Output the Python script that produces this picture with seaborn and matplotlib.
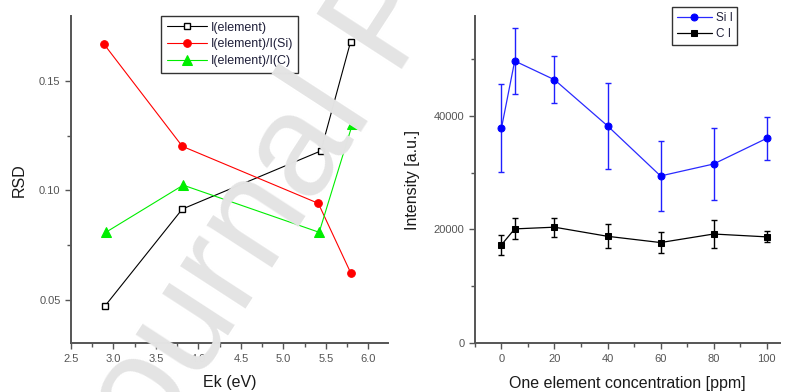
import numpy as np
import pandas as pd
import matplotlib
matplotlib.use("Agg")
import matplotlib.pyplot as plt
from matplotlib.ticker import MultipleLocator, FixedLocator
import seaborn as sns

# ---------------- data ----------------
ek_elem = [2.90, 3.81, 5.44, 5.79]
rsd_elem = [0.0473, 0.0915, 0.1180, 0.1678]
ek_si = [2.89, 3.81, 5.41, 5.79]
rsd_si = [0.1666, 0.1201, 0.0941, 0.0625]
ek_c = [2.91, 3.82, 5.42, 5.81]
rsd_c = [0.0809, 0.1024, 0.0809, 0.1301]

conc = [0, 5, 20, 40, 60, 80, 100]
si_int = [37800, 49600, 46300, 38200, 29400, 31500, 36000]
si_err = [7700, 5800, 4100, 7600, 6100, 6300, 3800]
c_int = [17300, 20100, 20400, 18800, 17700, 19200, 18700]
c_err = [1700, 1850, 1650, 2100, 1900, 2450, 950]

left_xticks = [2.5, 3.0, 3.5, 4.0, 4.5, 5.0, 5.5, 6.0]
left_yticks = [0.05, 0.10, 0.15]
right_xticks = [0, 20, 40, 60, 80, 100]
right_yticks = [0, 20000, 40000]

# ---------------- style ----------------
sns.set_style("ticks")
plt.rcParams["font.family"] = ["Liberation Sans", "DejaVu Sans"]
spine_c = "#555555"
tick_c = "#555555"
text_c = "#1a1a1a"

fig = plt.figure(figsize=(7.85, 3.92), dpi=100)
axL = fig.add_axes([0.0904, 0.1242, 0.4039, 0.8350])
axR = fig.add_axes([0.605, 0.1242, 0.3885, 0.8350])

# ---------------- left panel ----------------
sns.lineplot(x=ek_elem, y=rsd_elem, ax=axL, color="black", lw=0.8,
             marker="s", markersize=5, markerfacecolor="white",
             markeredgecolor="black", markeredgewidth=1.0, label="I(element)")
sns.lineplot(x=ek_si, y=rsd_si, ax=axL, color="#ff0000", lw=0.8,
             marker="o", markersize=5.5, markerfacecolor="#ff0000",
             markeredgecolor="#ff0000", label="I(element)/I(Si)")
sns.lineplot(x=ek_c, y=rsd_c, ax=axL, color="#00ee00", lw=0.8,
             marker="^", markersize=6.5, markerfacecolor="#00ee00",
             markeredgecolor="#00ee00", label="I(element)/I(C)")

axL.set_xlim(2.5, 6.23)
axL.set_ylim(0.0303, 0.1795)
axL.xaxis.set_major_locator(FixedLocator(left_xticks))
axL.xaxis.set_minor_locator(MultipleLocator(0.25))
axL.yaxis.set_major_locator(FixedLocator(left_yticks))
axL.yaxis.set_minor_locator(FixedLocator([0.075, 0.125]))
axL.set_xticklabels([f"{v:.1f}" for v in left_xticks])
axL.set_yticklabels([f"{v:.2f}" for v in left_yticks])
axL.set_xlabel("Ek (eV)", fontsize=11.5, color=text_c)
axL.set_ylabel("RSD", fontsize=11.5, color=text_c)
axL.xaxis.set_label_coords(0.5, -0.097)
axL.yaxis.set_label_coords(-0.139, 0.5)

legL = axL.legend(loc="upper left", bbox_to_anchor=(0.284, 1.0), borderaxespad=0,
                  fontsize=9, frameon=True, fancybox=False, handlelength=3.2,
                  handletextpad=0.3, labelspacing=0.38, borderpad=0.45)
legL.get_frame().set_edgecolor("black")
legL.get_frame().set_linewidth(1.0)
for t in legL.get_texts():
    t.set_color("#20203a")

# ---------------- right panel ----------------
axR.errorbar(conc, si_int, yerr=si_err, fmt="none", ecolor="#2020ff",
             elinewidth=1.0, capsize=2.5, capthick=1.0)
axR.errorbar(conc, c_int, yerr=c_err, fmt="none", ecolor="black",
             elinewidth=1.0, capsize=2.5, capthick=1.0)
sns.lineplot(x=conc, y=si_int, ax=axR, color="#2a2aff", lw=0.9,
             marker="o", markersize=5, markerfacecolor="#0000ff",
             markeredgecolor="#0000ff", label="Si I")
sns.lineplot(x=conc, y=c_int, ax=axR, color="black", lw=0.9,
             marker="s", markersize=4.5, markerfacecolor="black",
             markeredgecolor="black", label="C I")

axR.set_xlim(-10, 105)
axR.set_ylim(0, 57500)
axR.xaxis.set_major_locator(FixedLocator(right_xticks))
axR.xaxis.set_minor_locator(MultipleLocator(10))
axR.yaxis.set_major_locator(FixedLocator(right_yticks))
axR.yaxis.set_minor_locator(FixedLocator([10000, 30000, 50000]))
axR.set_xticklabels([str(v) for v in right_xticks])
axR.set_yticklabels([str(v) for v in right_yticks])
axR.set_xlabel("One element concentration [ppm]", fontsize=11.5, color=text_c)
axR.set_ylabel("Intensity [a.u.]", fontsize=11.5, color=text_c)
axR.xaxis.set_label_coords(0.5, -0.1)
axR.yaxis.set_label_coords(-0.18, 0.5)

legR = axR.legend(loc="upper left", bbox_to_anchor=(0.646, 1.0275), borderaxespad=0,
                  fontsize=8.5, frameon=True, fancybox=False, handlelength=3.0,
                  handletextpad=0.3, labelspacing=0.4, borderpad=0.4)
legR.get_frame().set_edgecolor("black")
legR.get_frame().set_linewidth(1.0)
for t in legR.get_texts():
    t.set_color("#20203a")

for ax in (axL, axR):
    sns.despine(ax=ax)
    for s in ("left", "bottom"):
        ax.spines[s].set_color(spine_c)
        ax.spines[s].set_linewidth(1.4)
    ax.tick_params(which="major", direction="out", length=4.5, width=1.0,
                   color=spine_c, labelsize=8, labelcolor=tick_c, pad=3)
    ax.tick_params(which="minor", direction="out", length=3, width=1.0,
                   color=spine_c)

# ---------------- watermark ----------------
fig.text(0.1439, -0.3112, "Journal Pre-proof", fontsize=105, color="#e4e4e4",
         rotation=57, rotation_mode="anchor", ha="left", va="baseline",
         zorder=100, family=["Liberation Sans", "DejaVu Sans"])

fig.savefig("out.png", dpi=100)
